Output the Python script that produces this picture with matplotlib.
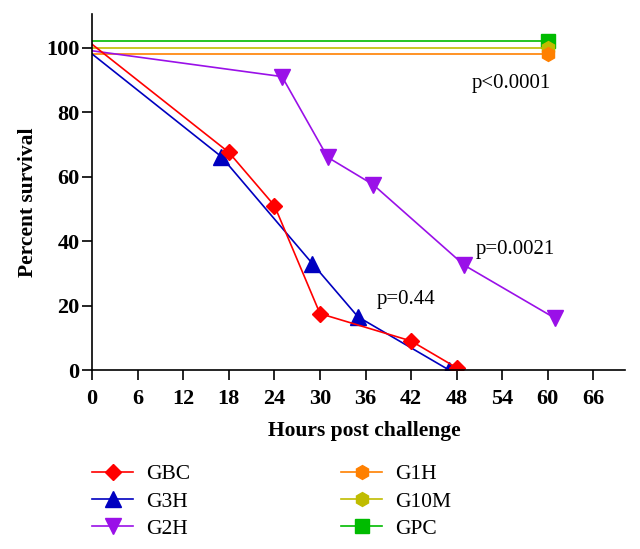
import numpy as np
import matplotlib.pyplot as plt

plt.rcParams['font.family'] = ['Liberation Serif', 'DejaVu Serif']

# survival data (hours, percent)
gbc_x = [0, 18, 24, 30, 42, 48]
gbc_y = [101, 67.5, 51, 17.5, 9, 0.7]
g3h_x = [0, 17, 29, 35, 47]
g3h_y = [98, 66.2, 33, 16.5, 0]
g2h_x = [0, 25, 31, 37, 49, 61]
g2h_y = [99, 91, 66, 57.5, 32.5, 16]
g1h_x = [0, 60]
g1h_y = [98, 98]
g10m_x = [0, 60]
g10m_y = [100, 100]
gpc_x = [0, 60]
gpc_y = [102, 102]

xticks = [0, 6, 12, 18, 24, 30, 36, 42, 48, 54, 60, 66]
yticks = [0, 20, 40, 60, 80, 100]

fig = plt.figure(figsize=(6.4, 5.49), dpi=100)
ax = fig.add_axes([0.144, 0.326, 0.833, 0.649])

ax.plot(gpc_x, gpc_y, color='#00bb00', marker='s', markersize=10, lw=1.2,
        markevery=[1], label='GPC')
ax.plot(g10m_x, g10m_y, color='#c0bc00', marker='h', markersize=10, lw=1.2,
        markevery=[1], label='G10M')
ax.plot(g1h_x, g1h_y, color='#ff8000', marker='h', markersize=10, lw=1.2,
        markevery=[1], label='G1H')
ax.plot(g2h_x, g2h_y, color='#9a10e8', marker='v', markersize=11, lw=1.2,
        markevery=slice(1, None), label='G2H')
ax.plot(g3h_x, g3h_y, color='#0000c0', marker='^', markersize=11, lw=1.2,
        markevery=slice(1, None), label='G3H')
ax.plot(gbc_x, gbc_y, color='#ff0000', marker='D', markersize=8, lw=1.2,
        markevery=slice(1, None), label='GBC')

ax.text(50, 89, 'p<0.0001', fontsize=15, va='center')
ax.text(50.5, 37.5, 'p=0.0021', fontsize=15, va='center')
ax.text(37.5, 22, 'p=0.44', fontsize=15, va='center')

ax.set_xlim(0, 70.2)
ax.set_ylim(0, 110.5)
ax.set_xticks(xticks)
ax.set_yticks(yticks)
ax.tick_params(labelsize=16, length=7, width=1.2)
ax.tick_params(axis='x', pad=6.5)
ax.tick_params(axis='y', pad=2)
for lab in ax.get_xticklabels() + ax.get_yticklabels():
    lab.set_fontweight('bold')
ax.spines['top'].set_visible(False)
ax.spines['right'].set_visible(False)
ax.spines['left'].set_linewidth(1.2)
ax.spines['bottom'].set_linewidth(1.2)
ax.set_xlabel('Hours post challenge', fontsize=15.5, fontweight='bold')
ax.set_ylabel('Percent survival', fontsize=15.5, fontweight='bold')
ax.xaxis.set_label_coords(0.51, -0.143)
ax.yaxis.set_label_coords(-0.102, 0.47)

h, l = ax.get_legend_handles_labels()
order = ['GBC', 'G3H', 'G2H', 'G1H', 'G10M', 'GPC']
hd = dict(zip(l, h))
fig.legend([hd[k] for k in order], order, ncol=2, frameon=False,
           loc='upper left', bbox_to_anchor=(0.131, 0.17), fontsize=15.5,
           handlelength=1.9, handletextpad=0.6, columnspacing=7.0,
           labelspacing=0.33, borderaxespad=0)

fig.savefig('out.png', dpi=100)
